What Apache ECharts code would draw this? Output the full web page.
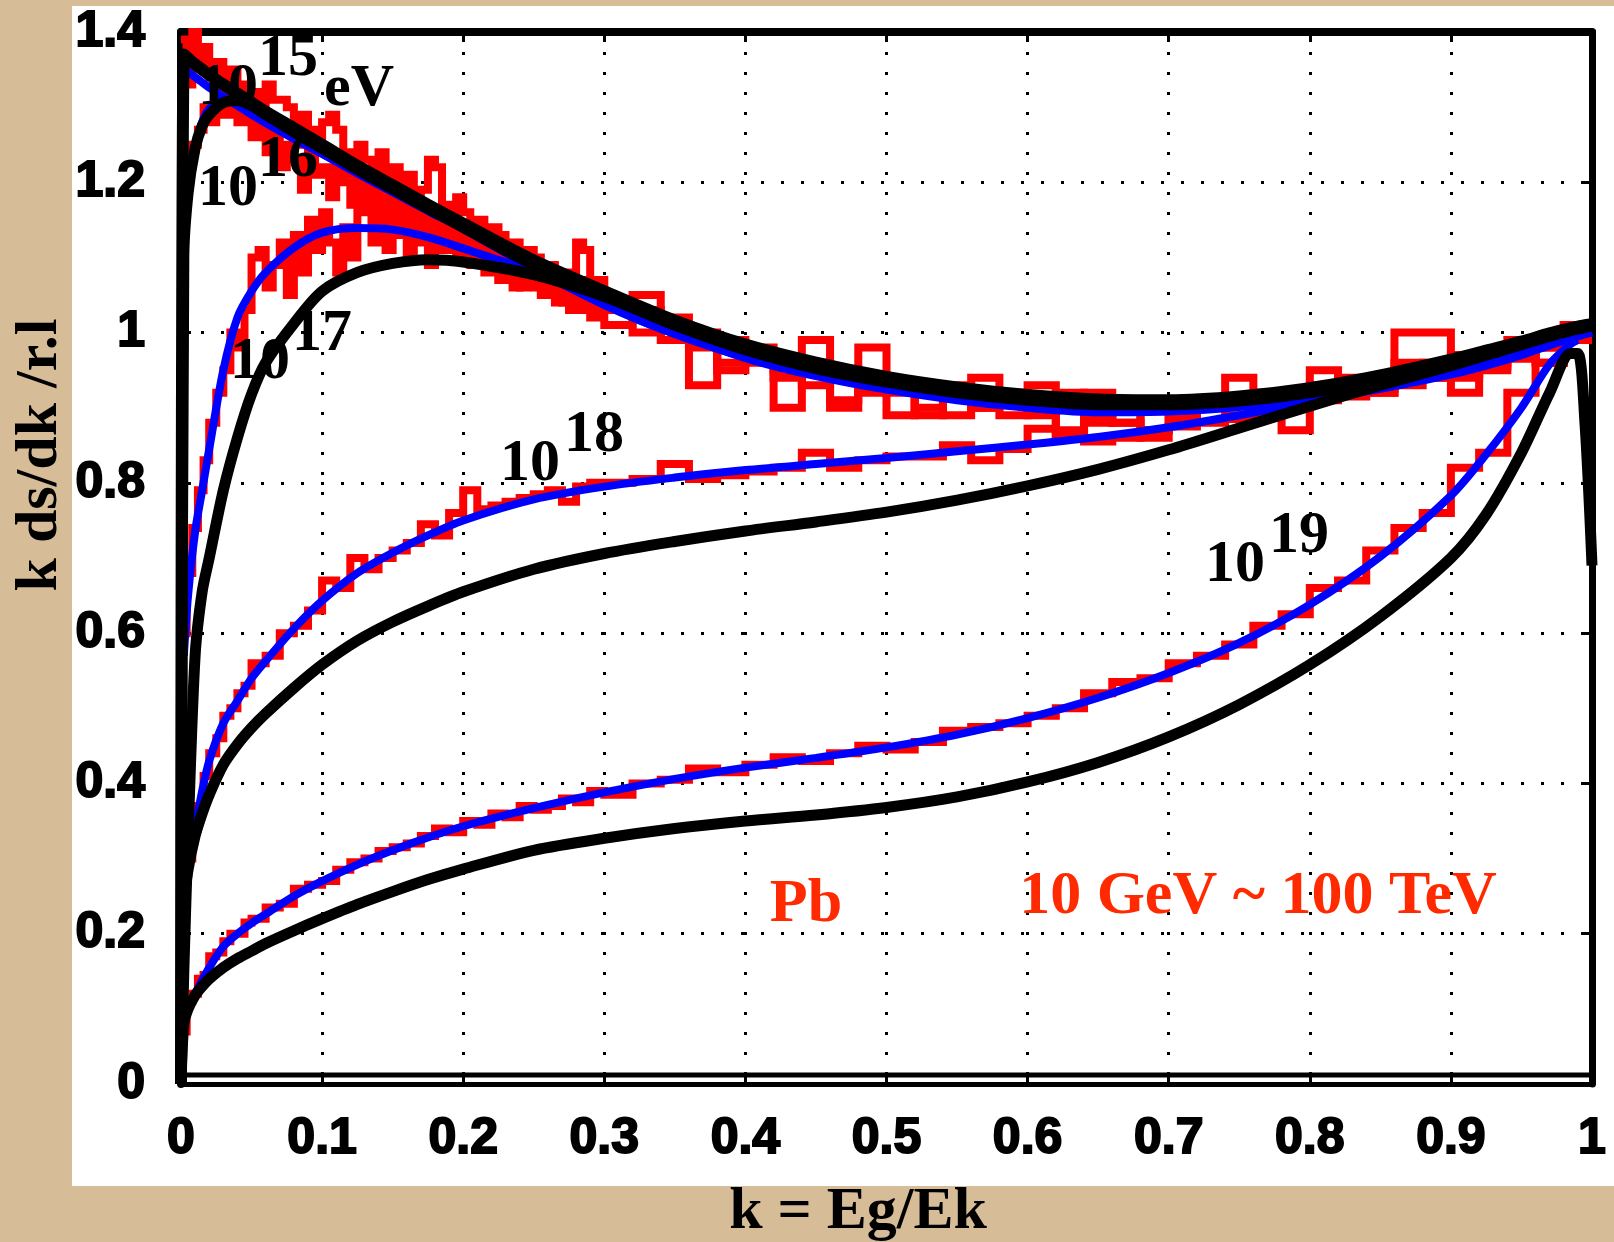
<!DOCTYPE html>
<html>
<head>
<meta charset="utf-8">
<title>k ds/dk - Pb</title>
<script src="https://cdn.jsdelivr.net/npm/echarts@6/dist/echarts.min.js"></script>
<style>
  html, body { margin: 0; padding: 0; background: #d6bd97; }
  #chart { width: 1614px; height: 1242px; }
</style>
</head>
<body>
<div id="chart"></div>
<script>
// tick labels
var xTickLabels = ['0', '0.1', '0.2', '0.3', '0.4', '0.5', '0.6', '0.7', '0.8', '0.9', '1'];
var yTickLabels = ['0', '0.2', '0.4', '0.6', '0.8', '1', '1.2', '1.4'];

// k values for the smooth curves (theory = black, fit = blue)
var kGrid = [0, 0.002, 0.005, 0.01, 0.015, 0.02, 0.03, 0.04, 0.05, 0.06, 0.08, 0.10, 0.125, 0.15, 0.175, 0.20,
    0.25, 0.30, 0.35, 0.40, 0.45, 0.50, 0.55, 0.60, 0.65, 0.70, 0.75, 0.80, 0.85, 0.90, 0.925, 0.95, 0.97,
    0.985, 0.99, 0.995, 1.0];

var black15 = [0, 1.37, 1.365, 1.357, 1.35, 1.343, 1.33, 1.318, 1.306, 1.294, 1.272, 1.25, 1.222, 1.196, 1.17, 1.145,
    1.096, 1.055, 1.016, 0.984, 0.96, 0.941, 0.927, 0.917, 0.911, 0.91, 0.915, 0.926, 0.943, 0.964, 0.976, 0.988, 0.999,
    1.006, 1.008, 1.01, 1.011];
var black16 = [0, 1.1, 1.185, 1.245, 1.275, 1.29, 1.306, 1.309, 1.302, 1.29, 1.267, 1.245, 1.217, 1.191, 1.165, 1.14,
    1.09, 1.05, 1.01, 0.978, 0.954, 0.935, 0.921, 0.911, 0.905, 0.905, 0.91, 0.921, 0.938, 0.96, 0.972, 0.985, 0.996,
    1.004, 1.006, 1.008, 1.01];
var black17 = [0, 0.15, 0.33, 0.57, 0.655, 0.7, 0.79, 0.86, 0.918, 0.96, 1.012, 1.055, 1.08, 1.092, 1.097, 1.094,
    1.077, 1.048, 1.01, 0.977, 0.952, 0.934, 0.92, 0.91, 0.904, 0.904, 0.909, 0.92, 0.937, 0.959, 0.971, 0.984, 0.995,
    1.003, 1.005, 1.007, 1.009];
var black18 = [0, 0.24, 0.285, 0.33, 0.36, 0.385, 0.425, 0.452, 0.474, 0.493, 0.527, 0.558, 0.59, 0.615, 0.636, 0.655,
    0.685, 0.706, 0.722, 0.736, 0.748, 0.761, 0.777, 0.796, 0.818, 0.844, 0.873, 0.902, 0.93, 0.956, 0.97, 0.984, 0.996,
    1.003, 1.005, 1.007, 1.009];
var black19 = [0, 0.08, 0.1, 0.118, 0.13, 0.14, 0.155, 0.167, 0.177, 0.187, 0.204, 0.22, 0.239, 0.256, 0.272, 0.286,
    0.311, 0.327, 0.34, 0.35, 0.358, 0.368, 0.382, 0.402, 0.428, 0.462, 0.505, 0.558, 0.622, 0.7, 0.758, 0.84, 0.92,
    0.972, 0.972, 0.88, 0.69];

var blue15 = [null, 1.35, 1.347, 1.34, 1.333, 1.326, 1.314, 1.302, 1.29, 1.279, 1.258, 1.238, 1.212, 1.187, 1.162, 1.138,
    1.085, 1.037, 0.998, 0.967, 0.943, 0.926, 0.912, 0.902, 0.897, 0.898, 0.904, 0.915, 0.93, 0.948, 0.959, 0.973, 0.986,
    0.994, 0.997, 0.999, 1.0];
var blue16 = [null, 1.13, 1.19, 1.245, 1.28, 1.298, 1.31, 1.305, 1.292, 1.28, 1.258, 1.238, 1.212, 1.187, 1.162, 1.138,
    1.085, 1.037, 0.998, 0.967, 0.943, 0.926, 0.912, 0.902, 0.897, 0.898, 0.904, 0.915, 0.93, 0.948, 0.959, 0.973, 0.986,
    0.994, 0.997, 0.999, 1.0];
var blue17 = [null, 0.57, 0.65, 0.735, 0.79, 0.845, 0.95, 1.02, 1.055, 1.08, 1.113, 1.133, 1.139, 1.137, 1.127, 1.112,
    1.08, 1.04, 1.0, 0.966, 0.942, 0.924, 0.91, 0.9, 0.894, 0.895, 0.901, 0.913, 0.928, 0.946, 0.957, 0.971, 0.985,
    0.993, 0.996, 0.998, 1.0];
var blue18 = [null, 0.25, 0.29, 0.34, 0.39, 0.43, 0.48, 0.51, 0.54, 0.563, 0.606, 0.643, 0.68, 0.707, 0.73, 0.75,
    0.778, 0.795, 0.807, 0.817, 0.825, 0.833, 0.842, 0.851, 0.861, 0.874, 0.89, 0.908, 0.925, 0.944, 0.956, 0.97, 0.983,
    0.992, 0.995, 0.998, 1.0];
var blue19 = [0, 0.075, 0.098, 0.12, 0.138, 0.155, 0.183, 0.2, 0.214, 0.226, 0.25, 0.27, 0.292, 0.311, 0.328, 0.343,
    0.367, 0.388, 0.406, 0.421, 0.434, 0.448, 0.465, 0.487, 0.514, 0.547, 0.587, 0.638, 0.702, 0.783, 0.838, 0.9, 0.958,
    0.985, 0.99, null, null];

// MC histograms (red): left bin edges, value held until the next edge
// finer bins for the noisy low-energy runs
var redXTop = [0, 0.004, 0.008, 0.012, 0.016, 0.02, 0.025, 0.03, 0.035, 0.04, 0.045,
    0.05, 0.055, 0.06, 0.065, 0.07, 0.075, 0.08, 0.085, 0.09, 0.095,
    0.10, 0.105, 0.11, 0.115, 0.12, 0.125, 0.13, 0.135, 0.14, 0.145,
    0.15, 0.155, 0.16, 0.165, 0.17, 0.175, 0.18, 0.185, 0.19, 0.195,
    0.20, 0.205, 0.21, 0.215, 0.22, 0.225, 0.23, 0.235, 0.24, 0.245,
    0.25, 0.255, 0.26, 0.265, 0.27, 0.275, 0.28, 0.285, 0.29, 0.295,
    0.30, 0.32, 0.34, 0.36, 0.38, 0.40, 0.42, 0.44, 0.46, 0.48, 0.50, 0.52, 0.54, 0.56, 0.58, 0.60, 0.62, 0.64, 0.66,
    0.68, 0.70, 0.72, 0.74, 0.76, 0.78, 0.80, 0.82, 0.84, 0.86, 0.88, 0.90, 0.92, 0.94, 0.96, 0.98, 1.0];
var redX = [0, 0.004, 0.008, 0.012, 0.016, 0.02, 0.025, 0.03, 0.035, 0.04, 0.045, 0.05,
    0.06, 0.07, 0.08, 0.09, 0.10, 0.11, 0.12, 0.13, 0.14, 0.15, 0.16, 0.17, 0.18, 0.19, 0.20, 0.21, 0.22, 0.23, 0.24,
    0.25, 0.26, 0.27, 0.28, 0.29, 0.30,
    0.32, 0.34, 0.36, 0.38, 0.40, 0.42, 0.44, 0.46, 0.48, 0.50, 0.52, 0.54, 0.56, 0.58, 0.60, 0.62, 0.64, 0.66, 0.68,
    0.70, 0.72, 0.74, 0.76, 0.78, 0.80, 0.82, 0.84, 0.86, 0.88, 0.90, 0.92, 0.94, 0.96, 0.98, 1.0];

var red15 = [1.39, 1.33, 1.40, 1.36, 1.38, 1.34, 1.36, 1.30, 1.35, 1.33, 1.29,
    1.32, 1.29, 1.33, 1.31, 1.31, 1.30, 1.25, 1.29, 1.27, 1.26,
    1.28, 1.29, 1.27, 1.24, 1.21, 1.25, 1.23, 1.20, 1.24, 1.19,
    1.22, 1.18, 1.21, 1.16, 1.19, 1.23, 1.22, 1.17, 1.15, 1.18,
    1.16, 1.12, 1.15, 1.11, 1.14, 1.13, 1.09, 1.12, 1.08, 1.11,
    1.10, 1.06, 1.09, 1.05, 1.08, 1.04, 1.12, 1.11, 1.05, 1.07,
    1.03, 1.05, 1.01, 0.93, 0.99, 0.96, 0.90, 0.99, 0.91, 0.98, 0.89, 0.93, 0.89, 0.94, 0.92, 0.93, 0.87, 0.92, 0.88,
    0.90, 0.89, 0.91, 0.94, 0.92, 0.87, 0.95, 0.93, 0.92, 1.0, 1.0, 0.92, 0.97, 0.99, 0.96, 1.01, 1.01];
var red16 = [1.16, 1.22, 1.25, 1.27, 1.30, 1.28, 1.32, 1.29, 1.33, 1.28, 1.31,
    1.26, 1.28, 1.24, 1.27, 1.22, 1.25, 1.23, 1.19, 1.24, 1.21,
    1.22, 1.18, 1.23, 1.20, 1.17, 1.21, 1.16, 1.19, 1.15, 1.18,
    1.16, 1.19, 1.14, 1.17, 1.13, 1.16, 1.12, 1.15, 1.14, 1.11,
    1.13, 1.10, 1.12, 1.09, 1.11, 1.07, 1.10, 1.08, 1.06, 1.09,
    1.07, 1.05, 1.08, 1.04, 1.06, 1.03, 1.05, 1.07, 1.02, 1.04,
    1.01, 1.03, 0.99, 1.0, 0.96, 0.98, 0.95, 0.93, 0.95, 0.92, 0.93, 0.90, 0.93, 0.90, 0.91, 0.89, 0.92, 0.88, 0.91,
    0.87, 0.89, 0.90, 0.91, 0.89, 0.91, 0.93, 0.92, 0.93, 0.96, 0.94, 0.97, 0.95, 0.97, 0.98, 1.0, 1.0];
var red17 = [0.60, 0.68, 0.74, 0.79, 0.83, 0.88, 0.92, 0.95, 1.0, 0.98, 1.03,
    1.10, 1.11, 1.06, 1.09, 1.12, 1.05, 1.13, 1.08, 1.15, 1.11,
    1.16, 1.12, 1.08, 1.14, 1.10, 1.18, 1.17, 1.12, 1.15, 1.11,
    1.16, 1.13, 1.10, 1.15, 1.12, 1.09, 1.14, 1.11, 1.13, 1.10,
    1.12, 1.09, 1.11, 1.08, 1.10, 1.07, 1.09, 1.06, 1.10, 1.08,
    1.06, 1.08, 1.05, 1.07, 1.04, 1.06, 1.03, 1.05, 1.06, 1.03,
    1.04, 1.0, 1.02, 0.98, 0.95, 0.97, 0.94, 0.96, 0.90, 0.94, 0.92, 0.89, 0.92, 0.90, 0.89, 0.91, 0.86, 0.89, 0.88,
    0.86, 0.88, 0.90, 0.89, 0.91, 0.90, 0.92, 0.94, 0.92, 0.94, 0.96, 0.94, 0.96, 0.97, 0.99, 1.01, 1.01];
var red18 = [0.25, 0.30, 0.34, 0.37, 0.41, 0.44, 0.46, 0.49, 0.50, 0.52, 0.53, 0.56,
    0.57, 0.60, 0.61, 0.63, 0.67, 0.66, 0.70, 0.685, 0.70, 0.71, 0.72, 0.745, 0.73, 0.76, 0.79, 0.765, 0.77, 0.775, 0.78,
    0.785, 0.79, 0.775, 0.795, 0.80, 0.80,
    0.805, 0.825, 0.805, 0.81, 0.815, 0.82, 0.84, 0.82, 0.83, 0.835, 0.835, 0.85, 0.83, 0.845, 0.872, 0.865, 0.855, 0.86,
    0.87, 0.875, 0.88, 0.885, 0.895, 0.905, 0.91, 0.915, 0.925, 0.93, 0.94, 0.945, 0.955, 0.965, 0.98, 0.99, 0.99];
var red19 = [0.07, 0.11, 0.12, 0.14, 0.145, 0.17, 0.175, 0.19, 0.20, 0.20, 0.215, 0.22,
    0.235, 0.24, 0.26, 0.265, 0.27, 0.285, 0.295, 0.30, 0.31, 0.315, 0.32, 0.33, 0.34, 0.335, 0.35, 0.345, 0.36, 0.355,
    0.37, 0.365, 0.37, 0.38, 0.375, 0.39, 0.385,
    0.40, 0.405, 0.42, 0.415, 0.425, 0.435, 0.43, 0.44, 0.45, 0.445, 0.455, 0.47, 0.475, 0.48, 0.49, 0.50, 0.52, 0.535,
    0.54, 0.56, 0.57, 0.585, 0.61, 0.625, 0.66, 0.67, 0.71, 0.74, 0.76, 0.82, 0.84, 0.92, 0.96, 0.99, 0.99];

function pairs(xs, ys) {
    var out = [];
    for (var i = 0; i < xs.length; i++) {
        out.push([xs[i], ys[i]]);
    }
    return out;
}

function curve(name, ys, color, width) {
    return {
        name: name, type: 'line', data: pairs(kGrid, ys),
        showSymbol: false, symbol: 'none', smooth: 0.3,
        lineStyle: { color: color, width: width, cap: 'butt' },
        silent: true
    };
}

function hist(name, xs, ys) {
    return {
        name: name, type: 'line', step: 'end', data: pairs(xs, ys),
        showSymbol: false, symbol: 'none',
        lineStyle: { color: '#ff0000', width: 8, join: 'miter' },
        silent: true
    };
}

var tickFont = '"Liberation Sans", Arial, sans-serif';
var serifFont = '"Liberation Serif", "Times New Roman", serif';
var dotted = { color: '#000', width: 3, type: [3, 17] };

// labels placed in pixels, as on the original slide
var energyLabels = [
    { text: '10', x: 228, y: 88 }, { text: '15', x: 288, y: 59 }, { text: 'eV', x: 359, y: 89 },
    { text: '10', x: 228, y: 189 }, { text: '16', x: 288, y: 160 },
    { text: '10', x: 260, y: 362 }, { text: '17', x: 322, y: 334 },
    { text: '10', x: 530, y: 464 }, { text: '18', x: 594, y: 435 },
    { text: '10', x: 1235, y: 565 }, { text: '19', x: 1299, y: 536 }
];

var graphics = [
    { type: 'rect', z: -100, shape: { x: 72, y: 6, width: 1542, height: 1180 }, style: { fill: '#ffffff' } },
    { type: 'line', z: 100, shape: { x1: 178, y1: 1075, x2: 1596, y2: 1075 }, style: { stroke: '#000', lineWidth: 5 } },
    { type: 'text', z: 100, x: 806, y: 905, style: { text: 'Pb', font: 'bold 62px ' + serifFont, fill: '#ff2a00', align: 'center', verticalAlign: 'middle' } },
    { type: 'text', z: 100, x: 1258, y: 897, style: { text: '10 GeV ~ 100 TeV', font: 'bold 62px ' + serifFont, fill: '#ff2a00', align: 'center', verticalAlign: 'middle' } },
    { type: 'text', z: 100, x: 858, y: 1212, style: { text: 'k = Eg/Ek', font: 'bold 60px ' + serifFont, fill: '#000', align: 'center', verticalAlign: 'middle' } },
    { type: 'text', z: 100, x: 40, y: 455, rotation: Math.PI / 2, style: { text: 'k ds/dk /r.l', font: 'bold 60px ' + serifFont, fill: '#000', align: 'center', verticalAlign: 'middle' } }
];
energyLabels.map(function (item) {
    graphics.push({
        type: 'text', z: 100, x: item.x, y: item.y,
        style: { text: item.text, font: 'bold 60px ' + serifFont, fill: '#000', align: 'center', verticalAlign: 'middle' }
    });
});

var myChart = echarts.init(document.getElementById('chart'), null, { renderer: 'canvas' });

var option = {
    backgroundColor: '#d6bd97',
    animation: false,
    grid: { left: 181, right: 22, top: 32, bottom: 158, containLabel: false },
    xAxis: [
        {
            type: 'value', min: 0, max: 1, interval: 0.1, position: 'bottom',
            axisLine: { show: true, onZero: false, lineStyle: { color: '#000', width: 5 } },
            axisTick: { show: true, inside: true, length: 10, lineStyle: { color: '#000', width: 3 } },
            axisLabel: {
                show: true, margin: 30, color: '#000', fontSize: 50, fontWeight: 'bold', fontFamily: tickFont,
                textBorderColor: '#000', textBorderWidth: 2,
                formatter: function (v, i) { return xTickLabels[i]; }
            },
            splitLine: { show: true, lineStyle: dotted }
        },
        {
            type: 'value', min: 0, max: 1, interval: 0.1, position: 'top',
            axisLine: { show: true, onZero: false, lineStyle: { color: '#000', width: 8 } },
            axisTick: { show: true, inside: true, length: 10, lineStyle: { color: '#000', width: 3 } },
            axisLabel: { show: false },
            splitLine: { show: false }
        }
    ],
    yAxis: [
        {
            type: 'value', min: 0, max: 1.4, interval: 0.2, position: 'left',
            axisLine: { show: true, onZero: false, lineStyle: { color: '#000', width: 8 } },
            axisTick: { show: true, inside: true, length: 10, lineStyle: { color: '#000', width: 3 } },
            axisLabel: {
                show: true, margin: 36, color: '#000', fontSize: 50, fontWeight: 'bold', fontFamily: tickFont,
                textBorderColor: '#000', textBorderWidth: 2,
                formatter: function (v, i) { return yTickLabels[i]; }
            },
            splitLine: { show: true, lineStyle: dotted }
        },
        {
            type: 'value', min: 0, max: 1.4, interval: 0.2, position: 'right',
            axisLine: { show: true, onZero: false, lineStyle: { color: '#000', width: 7 } },
            axisTick: { show: true, inside: true, length: 10, lineStyle: { color: '#000', width: 3 } },
            axisLabel: { show: false },
            splitLine: { show: false }
        }
    ],
    series: [
        hist('MC 1e15', redXTop, red15),
        hist('MC 1e16', redXTop, red16),
        hist('MC 1e17', redXTop, red17),
        hist('MC 1e18', redX, red18),
        hist('MC 1e19', redX, red19),
        curve('fit 1e19', blue19, '#0000ff', 8),
        curve('fit 1e18', blue18, '#0000ff', 8),
        curve('fit 1e17', blue17, '#0000ff', 8),
        curve('fit 1e16', blue16, '#0000ff', 8),
        curve('fit 1e15', blue15, '#0000ff', 8),
        curve('LPM 1e19', black19, '#000000', 11),
        curve('LPM 1e18', black18, '#000000', 11),
        curve('LPM 1e17', black17, '#000000', 11),
        curve('LPM 1e16', black16, '#000000', 11),
        curve('LPM 1e15', black15, '#000000', 12)
    ],
    graphic: { elements: graphics }
};

myChart.setOption(option);
</script>
</body>
</html>
